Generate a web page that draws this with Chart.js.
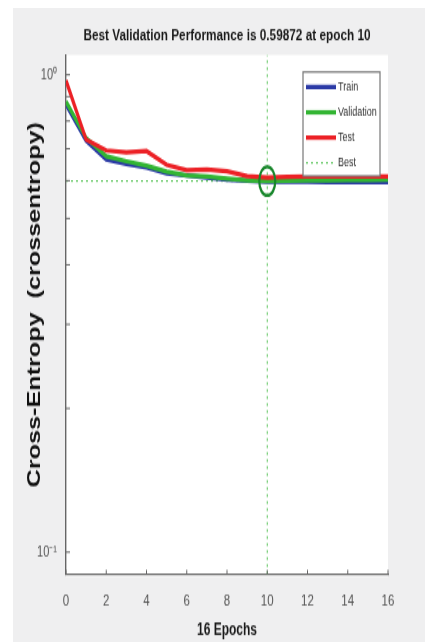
<!DOCTYPE html>
<html>
<head>
<meta charset="utf-8">
<script src="https://cdn.jsdelivr.net/npm/chart.js@4"></script>
<style>
  html, body { margin: 0; padding: 0; background: #fff; }
  #wrap { position: absolute; left: 13px; top: 8px; width: 412px; height: 634px; background: #efeff0; overflow: hidden; }
  /* the original figure is a screenshot stretched vertically, so draw at 412x453 and stretch it */
  #inner { position: absolute; left: 0; top: 0; width: 412px; height: 453px; transform: scaleY(1.39956); transform-origin: 0 0; }
</style>
</head>
<body>
<div id="wrap"><div id="inner"><canvas id="perfChart"></canvas></div></div>
<script>
// values
const epochs = [0, 1, 2, 3, 4, 5, 6, 7, 8, 9, 10, 11, 12, 13, 14, 15, 16];
const trainPerf = [0.866, 0.728, 0.664, 0.650, 0.639, 0.621, 0.615, 0.609, 0.603, 0.600, 0.597, 0.597, 0.597, 0.596, 0.596, 0.596, 0.596];
const valPerf = [0.879, 0.737, 0.675, 0.659, 0.645, 0.627, 0.615, 0.612, 0.606, 0.601, 0.59872, 0.600, 0.601, 0.601, 0.602, 0.602, 0.603];
const testPerf = [0.973, 0.731, 0.694, 0.688, 0.692, 0.648, 0.631, 0.633, 0.628, 0.613, 0.609, 0.611, 0.612, 0.612, 0.612, 0.612, 0.612];
const bestEpoch = 10;
const bestPerf = 0.59872;
const xTicks = [0, 2, 4, 6, 8, 10, 12, 14, 16];
const yTicks = [0.1, 0.2, 0.3, 0.4, 0.5, 0.6, 0.7, 0.8, 0.9, 1];
const yRange = [0.09, 1.1];
const yTitle = "Cross-Entropy  (crossentropy)";

const sans = "'Liberation Sans', Arial, sans-serif";
const toPoints = (vals) => vals.map((v, i) => ({ x: epochs[i], y: v }));

// white axes background
const plotBg = {
  id: "plotBg",
  beforeDraw(chart) {
    const a = chart.chartArea, ctx = chart.ctx;
    ctx.save();
    ctx.fillStyle = "#fff";
    ctx.fillRect(a.left, a.top, a.right - a.left, a.bottom - a.top + 2);
    ctx.restore();
  },
};

// tick marks pointing into the plot, like MATLAB
const innerTicks = {
  id: "innerTicks",
  afterDraw(chart) {
    const { x, y } = chart.scales, ctx = chart.ctx;
    ctx.save();
    ctx.strokeStyle = "#666";
    ctx.lineWidth = 1;
    ctx.beginPath();
    xTicks.forEach((t) => {
      const px = x.getPixelForValue(t);
      ctx.moveTo(px, y.bottom);
      ctx.lineTo(px, y.bottom - 3);
    });
    yTicks.forEach((t) => {
      const py = y.getPixelForValue(t);
      ctx.moveTo(x.left, py);
      ctx.lineTo(x.left + 4, py);
    });
    ctx.stroke();
    ctx.restore();
  },
};

// y title, a little above the axis centre as in the original
const yTitleText = {
  id: "yTitleText",
  afterDraw(chart) {
    const y = chart.scales.y, ctx = chart.ctx;
    ctx.save();
    ctx.translate(22, (y.top + y.bottom) / 2 - 7);
    ctx.rotate(-Math.PI / 2);
    ctx.font = "bold 18px " + sans;
    ctx.fillStyle = "#111";
    ctx.textAlign = "center";
    ctx.textBaseline = "middle";
    ctx.fillText(yTitle, 0, 0);
    ctx.restore();
  },
};

// circle round the best validation point
const bestMark = {
  id: "bestMark",
  afterDatasetsDraw(chart) {
    const { x, y } = chart.scales, ctx = chart.ctx;
    ctx.save();
    ctx.strokeStyle = "#17862a";
    ctx.lineWidth = 2.2;
    ctx.beginPath();
    ctx.ellipse(x.getPixelForValue(bestEpoch), y.getPixelForValue(bestPerf), 8, 10.3, 0, 0, Math.PI * 2);
    ctx.stroke();
    ctx.restore();
  },
};

// boxed legend in the upper right of the axes
const boxLegend = {
  id: "boxLegend",
  afterDraw(chart) {
    const ctx = chart.ctx;
    const bx = 290, by = 45.7, bw = 77, bh = 74.3;
    ctx.save();
    ctx.fillStyle = "#fff";
    ctx.fillRect(bx, by, bw, bh);
    ctx.strokeStyle = "#777";
    ctx.lineWidth = 1.2;
    ctx.strokeRect(bx, by, bw, bh);
    ctx.font = "9px " + sans;
    ctx.textBaseline = "middle";
    const items = chart.data.datasets.filter((d) => d.legend !== false);
    items.forEach((d, i) => {
      const ry = by + 10.7 + i * 18.1;
      ctx.strokeStyle = d.borderColor;
      ctx.lineWidth = d.borderDash ? 1 : 3.2;
      ctx.setLineDash(d.borderDash || []);
      ctx.beginPath();
      ctx.moveTo(bx + 3, ry);
      ctx.lineTo(bx + 33, ry);
      ctx.stroke();
      ctx.setLineDash([]);
      ctx.fillStyle = "#333";
      ctx.fillText(d.label, bx + 35, ry);
    });
    ctx.restore();
  },
};

new Chart(document.getElementById("perfChart"), {
  type: "line",
  data: {
    datasets: [
      { label: "Train", data: toPoints(trainPerf), borderColor: "#2b3aa6", borderWidth: 3.2, order: 3 },
      { label: "Validation", data: toPoints(valPerf), borderColor: "#33b533", borderWidth: 3.2, order: 2 },
      { label: "Test", data: toPoints(testPerf), borderColor: "#ec2126", borderWidth: 3.2, order: 1 },
      {
        label: "Best",
        data: [{ x: bestEpoch, y: yRange[0] }, { x: bestEpoch, y: yRange[1] }],
        borderColor: "#4cbf4c", borderWidth: 1, borderDash: [2, 3], order: 4,
      },
      {
        label: "Best level",
        legend: false,
        data: [{ x: xTicks[0], y: bestPerf }, { x: xTicks[xTicks.length - 1], y: bestPerf }],
        borderColor: "#4cbf4c", borderWidth: 1, borderDash: [2, 3], order: 5,
      },
    ],
  },
  options: {
    responsive: true,
    maintainAspectRatio: false,
    animation: false,
    elements: { point: { radius: 0 }, line: { tension: 0 } },
    layout: { padding: { left: 0, right: 37, top: 0, bottom: 0 } },
    plugins: {
      legend: { display: false },
      tooltip: { enabled: false },
      title: {
        display: true,
        fullSize: false,
        text: "Best Validation Performance is 0.59872 at epoch 10",
        color: "#1a1a1a",
        font: { family: sans, size: 11.8, weight: "bold" },
        padding: { top: 12.9, bottom: 6.5 },
      },
    },
    scales: {
      x: {
        type: "linear",
        min: xTicks[0],
        max: xTicks[xTicks.length - 1],
        grid: { display: false },
        border: { display: true, color: "#666", width: 1.2 },
        afterBuildTicks: (s) => { s.ticks = xTicks.map((v) => ({ value: v })); },
        afterFit: (s) => { s.height = 48.6; },
        ticks: { color: "#555", padding: 4.5, font: { family: sans, size: 11.5 } },
        title: {
          display: true,
          text: "16 Epochs",
          color: "#1a1a1a",
          font: { family: sans, size: 12, weight: "bold" },
          padding: { top: 0, bottom: 1.5 },
        },
      },
      y: {
        type: "logarithmic",
        min: yRange[0],
        max: yRange[1],
        grid: { display: false },
        border: { display: true, color: "#666", width: 1.4 },
        afterBuildTicks: (s) => { s.ticks = yTicks.map((v) => ({ value: v })); },
        afterFit: (s) => { s.width = 53; },
        ticks: {
          autoSkip: false,
          color: "#555",
          padding: 1,
          font: { family: sans, size: 11 },
          callback: (v) => (v === 1 ? "10\u2070" : v === 0.1 ? "10\u207B\u00B9" : ""),
        },
      },
    },
  },
  plugins: [plotBg, innerTicks, bestMark, boxLegend, yTitleText],
});
</script>
</body>
</html>
